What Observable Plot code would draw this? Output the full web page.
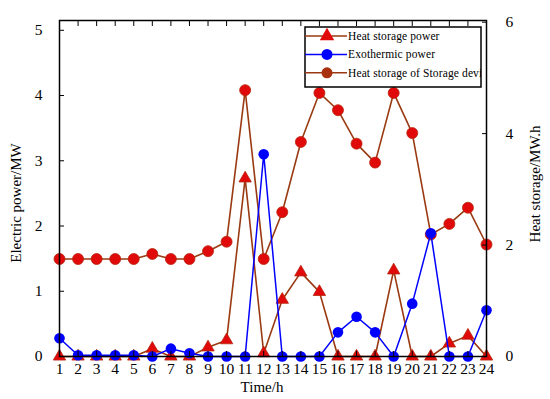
<!DOCTYPE html>
<html><head><meta charset="utf-8">
<script src="https://cdn.jsdelivr.net/npm/d3@7"></script>
<script src="https://cdn.jsdelivr.net/npm/@observablehq/plot@0.6"></script>
<style>body{margin:0;background:#fff} svg{display:block} svg text{font-family:'Liberation Serif','DejaVu Serif',serif !important;}</style>
</head><body><div id="chart"></div>
<script>
const hours = [1,2,3,4,5,6,7,8,9,10,11,12,13,14,15,16,17,18,19,20,21,22,23,24];
const heatStoragePower = [0,0,0,0,0,0.12,0,0,0.14,0.25,2.73,0.05,0.87,1.29,0.99,0,0,0,1.32,0,0,0.2,0.32,0];
const exothermicPower = [0.28,0.02,0.02,0.02,0.02,0,0.12,0.05,0,0,0,3.1,0,0,0,0.37,0.61,0.37,0,0.81,1.89,0,0,0.71];
const storageEnergy = [1.75,1.75,1.75,1.75,1.75,1.84,1.75,1.75,1.89,2.06,4.78,1.75,2.59,3.85,4.73,4.42,3.82,3.48,4.73,4.01,2.19,2.38,2.67,2.01];
const leftTicks = [0,1,2,3,4,5];
const rightTicks = [0,2,4,6];
const seriesNames = ["Heat storage power","Exothermic power","Heat storage of Storage device"];

const leftMax = 5.15, rightMax = 6.03, k = leftMax / rightMax;
const brown = "#9a3a12", red = "#e00a0a", blue = "#0000ff";
const font = "'Liberation Serif', 'DejaVu Serif', serif";

const powerRows = hours.map((h,i)=>({h, v: heatStoragePower[i]}));
const exoRows = hours.map((h,i)=>({h, v: exothermicPower[i]}));
const storRows = hours.map((h,i)=>({h, v: storageEnergy[i]*k}));

const chart = Plot.plot({
  width: 550, height: 399,
  marginLeft: 59, marginRight: 64, marginTop: 20, marginBottom: 43,
  style: {fontFamily: font, fontSize: "15px", color: "black", background: "white"},
  x: {domain: [1, 24], label: null},
  y: {domain: [0, leftMax], label: null},
  marks: [
    Plot.line(storRows, {x: "h", y: "v", stroke: brown, strokeWidth: 1.6}),
    Plot.dot(storRows, {x: "h", y: "v", r: 5.5, fill: red, stroke: "#b8240c", strokeWidth: 0.8}),
    Plot.line(powerRows, {x: "h", y: "v", stroke: brown, strokeWidth: 1.6}),
    Plot.dot(powerRows, {x: "h", y: "v", symbol: "triangle", r: 4.6, fill: red, stroke: "#b8240c", strokeWidth: 0.8}),
    Plot.line(exoRows, {x: "h", y: "v", stroke: blue, strokeWidth: 1.5}),
    Plot.dot(exoRows, {x: "h", y: "v", r: 5.3, fill: blue}),
    Plot.axisX(hours, {anchor: "bottom", tickSize: -5, tickPadding: 11, label: null, fontSize: 15.5, tickFormat: d => String(d)}),
    Plot.axisX(hours, {anchor: "top", tickSize: -5, tickFormat: () => "", label: null}),
    Plot.axisY(leftTicks, {anchor: "left", tickSize: -5, tickPadding: 22, label: null, fontSize: 15.5, tickFormat: d => String(d)}),
    Plot.axisY(rightTicks.map(v => v*k), {anchor: "right", tickSize: -5, tickPadding: 24, label: null, fontSize: 15.5,
      tickFormat: d => String(Math.round(d / k))}),
    Plot.frame({stroke: "black", strokeWidth: 1.5})
  ]
});
document.getElementById("chart").appendChild(chart);

const svg = d3.select(chart);
const addText = (sel) => sel.style("font-family", font).attr("fill", "black");
addText(svg.append("text").attr("transform","translate(16,203) rotate(-90)").attr("text-anchor","middle")
  .attr("dominant-baseline","central").attr("font-size",15).text("Electric power/MW"));
addText(svg.append("text").attr("transform","translate(535,184) rotate(-90)").attr("text-anchor","middle")
  .attr("dominant-baseline","central").attr("font-size",15).text("Heat storage/MW.h"));
addText(svg.append("text").attr("x",262).attr("y",387).attr("text-anchor","middle")
  .attr("dominant-baseline","central").attr("font-size",15).text("Time/h"));

// legend
const lx = 305, ly = 27, lw = 176, lh = 60;
svg.append("clipPath").attr("id","legclip").append("rect").attr("x",lx).attr("y",ly).attr("width",lw).attr("height",lh);
const lg = svg.append("g");
lg.append("rect").attr("x",lx).attr("y",ly).attr("width",lw).attr("height",lh)
  .attr("fill","white").attr("stroke","black").attr("stroke-width",1.5);
const entries = [
  {c: brown, m: "tri", f: red},
  {c: blue, m: "dot", f: blue},
  {c: brown, m: "dot", f: "#a8300e"}
];
entries.forEach((e,i)=>{
  const y = 36 + i*18.4;
  lg.append("line").attr("x1",lx).attr("x2",347).attr("y1",y).attr("y2",y).attr("stroke",e.c).attr("stroke-width",1.5);
  if (e.m === "tri") lg.append("path").attr("d", d3.symbol(d3.symbolTriangle, 90)()).attr("transform",`translate(327,${y})`).attr("fill",e.f);
  else lg.append("circle").attr("cx",327).attr("cy",y).attr("r",5.5).attr("fill",e.f);
  addText(lg.append("text").attr("x",348).attr("y",y).attr("text-anchor","start").attr("dominant-baseline","central")
    .attr("font-size",11.5).attr("letter-spacing",0.12).attr("clip-path","url(#legclip)").text(seriesNames[i]));
});
svg.selectAll("text").style("font-family", font);
</script>
</body></html>
